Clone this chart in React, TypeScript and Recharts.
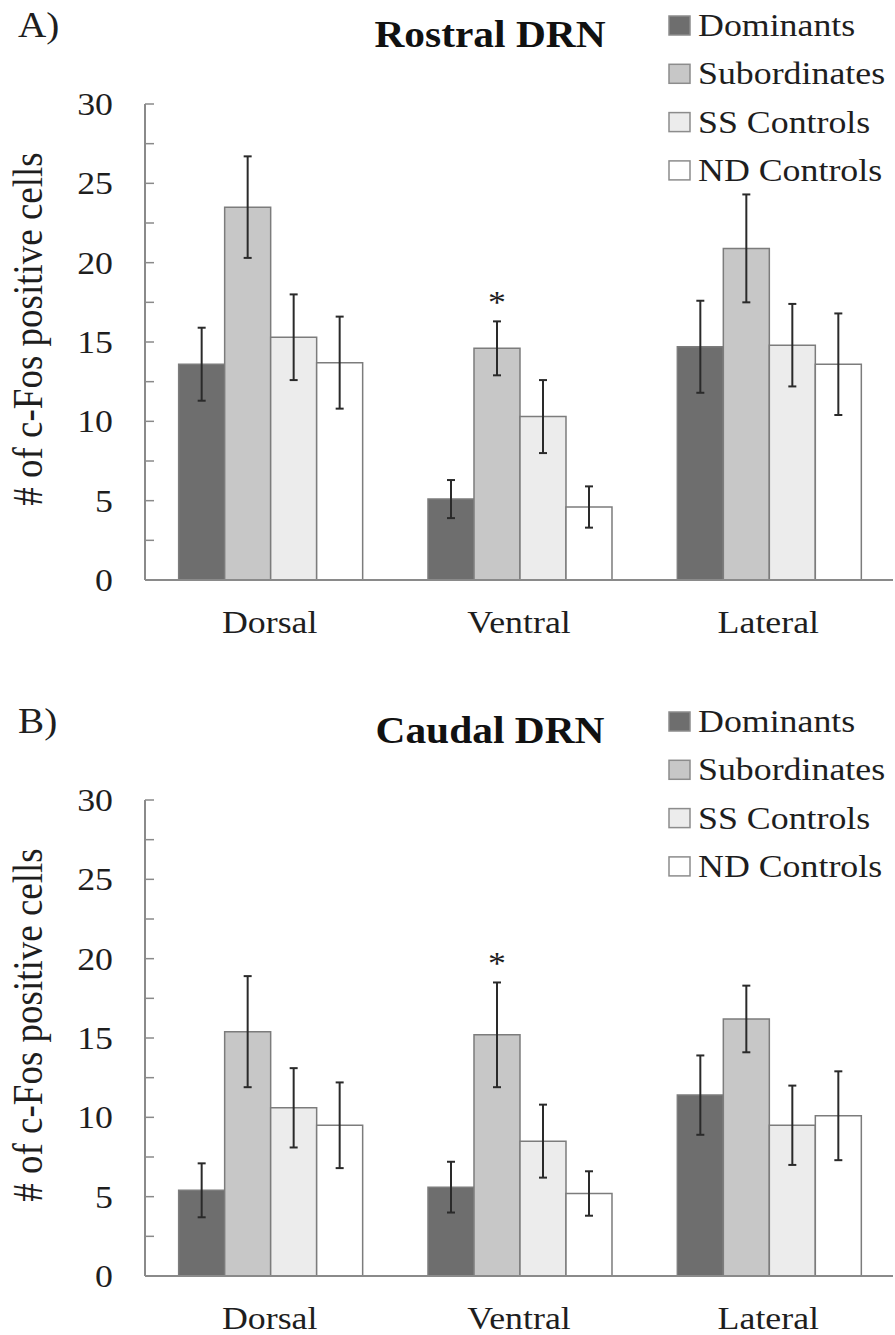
import React from 'react';
import { BarChart, Bar, XAxis, YAxis, ErrorBar, Legend, LabelList } from 'recharts';

const categories = ['Dorsal', 'Ventral', 'Lateral'];
const seriesNames = ['Dominants', 'Subordinates', 'SS Controls', 'ND Controls'];
const seriesColors = ['#6e6e6e', '#c7c7c7', '#ececec', '#ffffff'];
const yTicks = [0, 2.5, 5, 7.5, 10, 12.5, 15, 17.5, 20, 22.5, 25, 27.5, 30];

// Panel A: Rostral DRN
const rostralDominants = [13.6, 5.1, 14.7];
const rostralDominantsErr = [2.3, 1.2, 2.9];
const rostralSubordinates = [23.5, 14.6, 20.9];
const rostralSubordinatesErr = [3.2, 1.7, 3.4];
const rostralSS = [15.3, 10.3, 14.8];
const rostralSSErr = [2.7, 2.3, 2.6];
const rostralND = [13.7, 4.6, 13.6];
const rostralNDErr = [2.9, 1.3, 3.2];
const rostralSig = ['', '*', ''];

// Panel B: Caudal DRN
const caudalDominants = [5.4, 5.6, 11.4];
const caudalDominantsErr = [1.7, 1.6, 2.5];
const caudalSubordinates = [15.4, 15.2, 16.2];
const caudalSubordinatesErr = [3.5, 3.3, 2.1];
const caudalSS = [10.6, 8.5, 9.5];
const caudalSSErr = [2.5, 2.3, 2.5];
const caudalND = [9.5, 5.2, 10.1];
const caudalNDErr = [2.7, 1.4, 2.8];
const caudalSig = ['', '*', ''];

const FONT = '"Liberation Serif", "Times New Roman", serif';
const SX = 1.12;
const TEXT = '#1e1e1e';
const AXIS = '#8a8a8a';

function buildRows(dom, domE, sub, subE, ss, ssE, nd, ndE, sig) {
  return categories.map((c, i) => ({
    category: c,
    dom: dom[i], domErr: domE[i],
    sub: sub[i], subErr: subE[i],
    ss: ss[i], ssErr: ssE[i],
    nd: nd[i], ndErr: ndE[i],
    sig: sig[i],
  }));
}

const rostralRows = buildRows(rostralDominants, rostralDominantsErr, rostralSubordinates, rostralSubordinatesErr, rostralSS, rostralSSErr, rostralND, rostralNDErr, rostralSig);
const caudalRows = buildRows(caudalDominants, caudalDominantsErr, caudalSubordinates, caudalSubordinatesErr, caudalSS, caudalSSErr, caudalND, caudalNDErr, caudalSig);

const YTick = (props: any) => {
  const { x, y, payload } = props;
  const v = payload.value;
  return (
    <g>
      <line x1={x} x2={x + 9} y1={y} y2={y} stroke={AXIS} strokeWidth={1.5} />
      {v % 5 === 0 ? (
        <text transform={`translate(${x - 32} ${y + 11}) scale(${SX} 1)`} textAnchor="end" fontFamily={FONT} fontSize={32} fill={TEXT}>
          {v}
        </text>
      ) : null}
    </g>
  );
};

const XTick = (props: any) => {
  const { x, y, payload } = props;
  return (
    <text transform={`translate(${x} ${y + 53}) scale(${SX} 1)`} textAnchor="middle" fontFamily={FONT} fontSize={32} fill={TEXT}>
      {payload.value}
    </text>
  );
};

const LegendContent = (props: any) => {
  const payload = [...(props.payload || [])].sort(
    (a: any, b: any) => seriesNames.indexOf(a.value) - seriesNames.indexOf(b.value)
  );
  return (
    <svg width={235} height={200} style={{ display: 'block' }}>
      {payload.map((e: any, i: number) => {
        const idx = seriesNames.indexOf(e.value);
        const color = idx >= 0 ? seriesColors[idx] : e.color;
        return (
          <g key={e.value}>
            <rect x={9} y={16 + i * 48.3} width={21} height={19} fill={color} stroke="#8c8c8c" strokeWidth={1.5} />
            <text transform={`translate(38 ${36 + i * 48.3}) scale(${SX} 1)`} fontFamily={FONT} fontSize={32} fill={TEXT}>
              {e.value}
            </text>
          </g>
        );
      })}
    </svg>
  );
};

function makeStar(rows: any[]) {
  return (props: any) => {
    const { x, y, width, height, value, index } = props;
    if (!value) return null;
    const row = rows[index];
    const scale = height / row.sub;
    const cy = y - row.subErr * scale - 23;
    return (
      <text transform={`translate(${x + width / 2} ${cy + 15}) scale(${SX} 1)`} textAnchor="middle" fontFamily={FONT} fontSize={32} fill={TEXT}>
        {value}
      </text>
    );
  };
}

function Panel({ top, height, letter, title, rows }: any) {
  const barStroke = '#7c7c7c';
  const errProps = { width: 4, strokeWidth: 2, stroke: '#2a2a2a', direction: 'y' as const };
  return (
    <div style={{ position: 'absolute', left: 0, top, width: 895, height }}>
      <BarChart
        width={895}
        height={696}
        data={rows}
        margin={{ top: 104, right: 2, bottom: 56, left: 85 }}
        barCategoryGap="13.5%"
        barGap={0}
      >
        <XAxis
          dataKey="category"
          height={60}
          axisLine={{ stroke: AXIS, strokeWidth: 2 }}
          tickLine={false}
          tickSize={0}
          tickMargin={0}
          tick={<XTick />}
          interval={0}
        />
        <YAxis
          width={60}
          domain={[0, 30]}
          ticks={yTicks}
          interval={0}
          axisLine={{ stroke: AXIS, strokeWidth: 2 }}
          tickLine={false}
          tickSize={0}
          tickMargin={0}
          tick={<YTick />}
        />
        <Legend
          layout="vertical"
          align="center"
          verticalAlign="middle"
          wrapperStyle={{ left: 660, top: 0, width: 235, height: 200 }}
          content={<LegendContent />}
        />
        <Bar dataKey="dom" name={seriesNames[0]} fill={seriesColors[0]} stroke={barStroke} strokeWidth={1.5} isAnimationActive={false}>
          <ErrorBar dataKey="domErr" {...errProps} />
        </Bar>
        <Bar dataKey="sub" name={seriesNames[1]} fill={seriesColors[1]} stroke={barStroke} strokeWidth={1.5} isAnimationActive={false}>
          <ErrorBar dataKey="subErr" {...errProps} />
          <LabelList dataKey="sig" content={makeStar(rows)} />
        </Bar>
        <Bar dataKey="ss" name={seriesNames[2]} fill={seriesColors[2]} stroke={barStroke} strokeWidth={1.5} isAnimationActive={false}>
          <ErrorBar dataKey="ssErr" {...errProps} />
        </Bar>
        <Bar dataKey="nd" name={seriesNames[3]} fill={seriesColors[3]} stroke={barStroke} strokeWidth={1.5} isAnimationActive={false}>
          <ErrorBar dataKey="ndErr" {...errProps} />
        </Bar>
      </BarChart>
      <svg width={895} height={696} style={{ position: 'absolute', left: 0, top: 0, pointerEvents: 'none' }}>
        <text transform={`translate(18 37) scale(${SX} 1)`} fontFamily={FONT} fontSize={35} fill={TEXT}>
          {letter}
        </text>
        <text transform={`translate(490 47) scale(${SX} 1)`} textAnchor="middle" fontFamily={FONT} fontSize={37} fontWeight="bold" fill="#111">
          {title}
        </text>
        <text transform={`translate(42 329) rotate(-90) scale(1 ${SX})`} textAnchor="middle" fontFamily={FONT} fontSize={37} fill={TEXT}>
          # of c-Fos positive cells
        </text>
      </svg>
    </div>
  );
}

export default function App() {
  return (
    <div style={{ position: 'absolute', left: 0, top: 0, width: 895, height: 1335, overflow: 'hidden', background: '#fff' }}>
      <Panel top={0} height={696} letter="A)" title="Rostral DRN" rows={rostralRows} />
      <Panel top={696} height={639} letter="B)" title="Caudal DRN" rows={caudalRows} />
    </div>
  );
}
